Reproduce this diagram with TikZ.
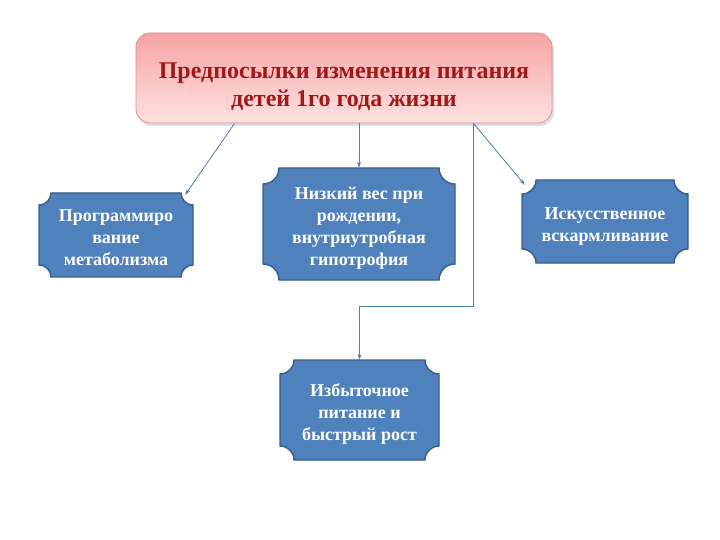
\documentclass[tikz,border=0pt]{standalone}
\usepackage{fontspec}
\setmainfont{Liberation Serif}
\usetikzlibrary{arrows.meta,calc,shadows}
\definecolor{boxblue}{HTML}{4F81BD}
\definecolor{boxedge}{HTML}{385D8A}
\definecolor{arrowc}{HTML}{4A7EBB}
\definecolor{titlered}{HTML}{A01818}
\definecolor{pinktop}{HTML}{F6A3A3}
\definecolor{pinkbot}{HTML}{FFE2E2}
\definecolor{pinkedge}{HTML}{D99090}
\tikzset{
  plaque/.style={fill=boxblue, draw=boxedge, line width=1.4pt},
  plaquetext/.style={draw=none, inner sep=0pt, align=center, text=white,
    font=\bfseries\fontsize{18}{22}\selectfont},
  topbox/.style={draw=pinkedge, line width=0.8pt, rounded corners=14pt,
    top color=pinktop, bottom color=pinkbot,
    minimum width=416pt, minimum height=90pt, align=center, text=titlered,
    font=\bfseries\fontsize{24}{28}\selectfont,
    drop shadow={opacity=0.25, shadow xshift=2pt, shadow yshift=-3pt}},
  conn/.style={draw=arrowc, line width=0.8pt, -{Stealth[length=6pt,width=4pt]}}
}
\newcommand\lowered[2]{\raisebox{-#1}[\height][\depth]{\begin{tabular}{@{}c@{}}#2\end{tabular}}}
\newcommand\plaquebox[7]{%
  \filldraw[plaque] ({#2+#6},#3) -- ({#4-#6},#3)
    .. controls ({#4-#6},{#3+0.552*#6}) and ({#4-0.552*#6},{#3+#6}) .. (#4,{#3+#6})
    -- (#4,{#5-#6})
    .. controls ({#4-0.552*#6},{#5-#6}) and ({#4-#6},{#5-0.552*#6}) .. ({#4-#6},#5)
    -- ({#2+#6},#5)
    .. controls ({#2+#6},{#5-0.552*#6}) and ({#2+0.552*#6},{#5-#6}) .. (#2,{#5-#6})
    -- (#2,{#3+#6})
    .. controls ({#2+0.552*#6},{#3+#6}) and ({#2+#6},{#3+0.552*#6}) .. cycle;
  \node[plaquetext, minimum width={(#4-#2)*1pt}, minimum height={(#5-#3)*1pt}]
    (#1) at ({(#2+#4)/2},{(#3+#5)/2}) {\lowered{4.5pt}{#7}};
}
\begin{document}
\begin{tikzpicture}[x=1pt,y=-1pt]
\useasboundingbox (0,0) rectangle (720,540);
\node[topbox] (top) at (344,78) {\lowered{8.5pt}{Предпосылки изменения питания\\детей 1го года жизни}};
\plaquebox{b1}{39}{193}{193}{277}{12}{Программиро\\вание\\метаболизма}
\plaquebox{b2}{263}{168}{455}{280}{16}{Низкий вес при\\рождении,\\внутриутробная\\гипотрофия}
\plaquebox{b3}{522}{180}{688}{263}{14}{Искусственное\\вскармливание}
\plaquebox{b4}{280}{360}{439}{460}{14}{Избыточное\\питание и\\быстрый рост}
\draw[conn] ($(top.south west)+(99,0)$) -- ($(b1.north east)+(-8,2)$);
\draw[conn] (top.south -| b2.north) -- (b2.north);
\draw[conn] ($(top.south east)+(-79,0)$) -- ($(b3.north west)+(3,5)$);
\draw[conn] ($(top.south east)+(-79,0)$) |- ($(b4.north)+(0,-53)$) -- (b4.north);
\end{tikzpicture}
\end{document}
